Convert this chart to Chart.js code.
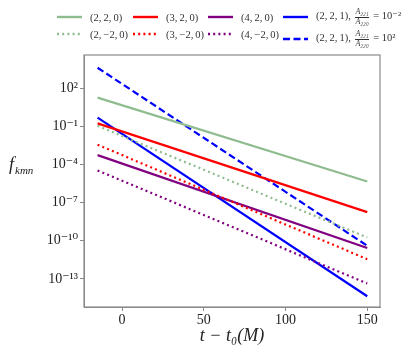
<!DOCTYPE html>
<html>
<head>
<meta charset="utf-8">
<script src="https://cdn.jsdelivr.net/npm/chart.js@4.4.1/dist/chart.umd.min.js"></script>
<style>
  body { margin: 0; background: #fff; }
  #wrap { position: relative; width: 415px; height: 350px; }
  #legend { position: absolute; left: 0; top: 0; width: 415px; height: 50px;
            font-family: 'Liberation Serif', 'DejaVu Serif', serif; color: #333; font-size: 10.5px; }
  .item { position: absolute; display: flex; align-items: center; white-space: nowrap; }
  .item svg { margin-right: 8px; }
  .frac { display: inline-flex; flex-direction: column; align-items: center; font-size: 8px;
          font-style: italic; vertical-align: middle; margin: 0 2px; line-height: 8.5px; }
  .frac span:first-child { border-bottom: 0.6px solid #333; }
</style>
</head>
<body>
<div id="wrap">
  <canvas id="c" width="415" height="350"></canvas>
  <div id="legend"></div>
</div>
<script>
// time axis (t - t0 in M), lines start and end here
const times = [-15, 150];

// values at t = -15 and t = 150
const f220   = [17.8, 4.6e-6];
const f2m20  = [0.11, 1.8e-10];
const f320   = [0.17, 1.8e-8];
const f3m20  = [3.6e-3, 3.6e-12];
const f420   = [5.4e-4, 2.7e-11];
const f4m20  = [3.4e-5, 4.4e-14];
const f221lo = [0.48, 4.4e-15];
const f221hi = [4.0e3, 4.1e-11];

const xTicks = [0, 50, 100, 150];
const yTickExps = [2, -1, -4, -7, -10, -13];
const yTickLabels = ['10²', '10⁻¹', '10⁻⁴', '10⁻⁷', '10⁻¹⁰', '10⁻¹³'];

const serif = "'Liberation Serif', 'DejaVu Serif', serif";
const GREEN = '#8fbc8f', RED = '#ff0000', PURPLE = '#800080', BLUE = '#0000ff';
const DOT = [2, 3.2], DASH = [7, 3.5];

function series(vals) { return times.map((t, i) => ({ x: t, y: vals[i] })); }

const datasets = [
  { label: '(2,\u20092,\u20090)',   data: series(f220),   borderColor: GREEN,  borderDash: [] },
  { label: '(2,\u2009−2,\u20090)',  data: series(f2m20),  borderColor: GREEN,  borderDash: DOT },
  { label: '(3,\u20092,\u20090)',   data: series(f320),   borderColor: RED,    borderDash: [] },
  { label: '(3,\u2009−2,\u20090)',  data: series(f3m20),  borderColor: RED,    borderDash: DOT },
  { label: '(4,\u20092,\u20090)',   data: series(f420),   borderColor: PURPLE, borderDash: [] },
  { label: '(4,\u2009−2,\u20090)',  data: series(f4m20),  borderColor: PURPLE, borderDash: DOT },
  { label: '(2,\u20092,\u20091)', exp: '10⁻²', data: series(f221lo), borderColor: BLUE, borderDash: [] },
  { label: '(2,\u20092,\u20091)', exp: '10²',  data: series(f221hi), borderColor: BLUE, borderDash: DASH }
].map(d => Object.assign(d, { borderWidth: 2.2, pointRadius: 0, fill: false, tension: 0 }));

// frame + horizontal y title
const extras = {
  id: 'extras',
  afterDraw(chart) {
    const { ctx, chartArea: a } = chart;
    ctx.save();
    ctx.strokeStyle = '#8a8a8a';
    ctx.lineWidth = 1.2;
    ctx.strokeRect(a.left, a.top, a.right - a.left, a.bottom - a.top);
    ctx.fillStyle = '#222';
    ctx.textBaseline = 'alphabetic';
    ctx.font = 'italic 18px ' + serif;
    ctx.fillText('f', 9, 170);
    ctx.font = 'italic 11px ' + serif;
    ctx.fillText('kmn', 15, 174);
    ctx.restore();
  }
};

new Chart(document.getElementById('c'), {
  type: 'line',
  data: { datasets },
  options: {
    responsive: false,
    animation: false,
    layout: { padding: { top: 55, right: 35, left: 0, bottom: 0 } },
    plugins: { legend: { display: false }, tooltip: { enabled: false } },
    scales: {
      x: {
        type: 'linear', min: -23.3, max: 157.8,
        afterBuildTicks: s => { s.ticks = xTicks.map(v => ({ value: v })); },
        afterFit: s => { s.height = 43; },
        grid: { drawOnChartArea: false, tickLength: 4, color: '#8a8a8a' },
        border: { color: '#8a8a8a' },
        ticks: { padding: 1, color: '#222', font: { family: serif, size: 14 } },
        title: { display: true, text: 't − t₀(M)', color: '#222',
                 font: { family: serif, size: 18, style: 'italic' }, padding: { top: 0, bottom: 3 } }
      },
      y: {
        type: 'logarithmic', min: 6.3e-16, max: 4e4,
        afterBuildTicks: s => { s.ticks = yTickExps.map(e => ({ value: Math.pow(10, e) })); },
        afterFit: s => { s.width = 84; },
        grid: { drawOnChartArea: false, tickLength: 4, color: '#8a8a8a' },
        border: { color: '#8a8a8a' },
        ticks: { padding: 2, color: '#222', font: { family: serif, size: 14 },
                 callback: (v, i) => yTickLabels[i] }
      }
    }
  },
  plugins: [extras]
});

// legend laid out like the original: 4 columns, 2 rows
const legend = document.getElementById('legend');
const colX = [57, 133, 208, 283];
datasets.forEach((d, i) => {
  const col = Math.floor(i / 2), row = i % 2;
  const el = document.createElement('div');
  el.className = 'item';
  el.style.left = colX[col] + 'px';
  const cy = col === 3 ? (row ? 39 : 17) : (row ? 34 : 17);
  el.style.top = (cy - 9) + 'px';
  el.style.height = '18px';
  const dash = d.borderDash.length ? d.borderDash.join(',') : 'none';
  el.innerHTML = `<svg width="25" height="4"><line x1="0" y1="2" x2="25" y2="2" stroke="${d.borderColor}" stroke-width="2.4" stroke-dasharray="${dash}"/></svg>` +
    `<span>${d.label}${d.exp ? ', <span class="frac"><span>A₂₂₁</span><span>A₂₂₀</span></span> = ' + d.exp : ''}</span>`;
  legend.appendChild(el);
});
</script>
</body>
</html>
